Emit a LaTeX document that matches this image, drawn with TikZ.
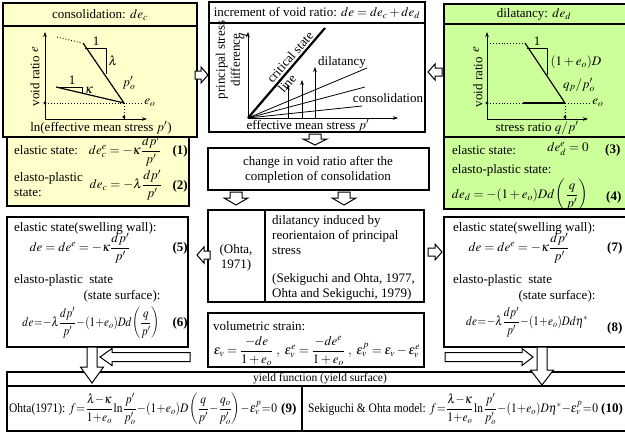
\documentclass[tikz,border=0pt]{standalone}
\usepackage{mathptmx}
\usepackage{amsmath}
\usepackage{graphicx}
\usepackage{fontspec}
\setmainfont{Liberation Serif}
\usetikzlibrary{arrows.meta}
\definecolor{ylw}{RGB}{255,255,204}
\definecolor{grn}{RGB}{204,255,153}
\tikzset{
 box/.style={draw=black,line width=1.3pt},
 txt/.style={inner sep=0pt,font=\fontsize{13}{15}\selectfont},
 smalltxt/.style={inner sep=0pt,font=\fontsize{11.5}{13}\selectfont},
 ax/.style={line width=0.8pt,-{Stealth[length=5pt,width=3.5pt]}},
 dots/.style={dotted,line width=0.9pt},
 blockarrow/.style={draw=black,line width=1pt,fill=white},
 thin/.style={line width=0.8pt},
}
\newcommand\tightmath{\medmuskip=0.5mu\thickmuskip=1mu\thinmuskip=1mu}
\newcommand\blkarrow[7]{\begin{scope}[shift={(#1,#2)},rotate=#3]
 \draw[blockarrow] (0,{-#5}) -- ({#4-#7},{-#5}) -- ({#4-#7},{-#6}) -- (#4,0) -- ({#4-#7},#6) -- ({#4-#7},#5) -- (0,#5) -- cycle;
\end{scope}}
\begin{document}
\begin{tikzpicture}[x=1pt,y=-1pt]
\useasboundingbox[fill=white] (0,0) rectangle (625,432);
% ---------- boxes ----------
\filldraw[box,fill=ylw] (3,3) rectangle (197,137);
\draw[box] (3,26) -- (197,26);
\filldraw[box,fill=ylw] (7,137) rectangle (189,206);
\draw[box] (209,2) rectangle (425,132);
\draw[box] (209,23) -- (425,23);
\filldraw[box,fill=grn] (444,4) rectangle (630,137);
\draw[box] (444,24) -- (630,24);
\filldraw[box,fill=grn] (444,137) rectangle (630,209);
\draw[box] (208,148) rectangle (429,190);
\draw[box] (208,210) rectangle (424,302);
\draw[box] (265,210) -- (265,302);
\draw[box] (7,217) rectangle (188,347);
\draw[box] (444,217) rectangle (630,347);
\draw[box] (208,313) rectangle (424,367);
\draw[box] (7,372) rectangle (630,431);
\draw[box] (7,386) -- (630,386);
\draw[box] (302,386) -- (302,431);
% ---------- titles ----------
\node[txt] (t1) at (100,15) {consolidation: $de_c$};
\node[txt] (t2) at (317,13) {increment of void ratio: $de=de_c+de_d$};
\node[txt] (t3) at (534,14) {dilatancy: $de_d$};
% ---------- left graph ----------
\coordinate (lo) at (45,119);
\draw[ax] (lo) -- (45,32);
\draw[ax] (lo) -- (147,119);
\draw[dots] (57,37) -- (82,43);
\draw[line width=1.2pt] (83,43) -- (124,103);
\draw[thin] (85,48) -- (106,48) -- (106,74);
\node[txt] (l1lab) at (96,41) {1};
\node[txt] (llam) at (113,61) {$\lambda$};
\draw[line width=1.2pt] (56,87) -- (124,103);
\draw[thin] (57,87) -- (82,87) -- (82,93);
\node[txt] (l1k) at (72,80) {1};
\node[txt] (lkap) at (89,90) {$\kappa$};
\node[txt] (lpo) at (129,83) {$p'_o$};
\draw[dots] (45,103) -- (143,103);
\node[txt] (leo) at (150,103) {$e_o$};
\draw[dots] (124,103) -- (124,119);
\draw[thin] (45,103) circle (1);
\draw[thin] (124,117) circle (1);
\node[txt,rotate=90] (lvr) at (35,81) {void ratio};
\node[txt,rotate=90] (le) at (35,50) {$e$};
\node[txt] (lxl) at (101,128) {ln(effective mean stress $p'$)};
% ---------- center graph ----------
\coordinate (co) at (248,118);
\draw[ax] (co) -- (248,32);
\draw[ax] (co) -- (398,118);
\draw[line width=2.2pt] (co) -- (325,28);
\draw[thin] (co) -- (367,68);
\draw[thin] (co) -- (365,87);
\draw[thin] (co) -- (362,106);
\draw[ax] (288,118) -- (288,85);
\draw[ax] (302,118) -- (302,80);
\draw[ax] (315,118) -- (315,67);
\node[txt,rotate=49,align=left] (csl) at (295.7,61.9) {critical state\\line};
\node[txt] (cdil) at (342,62) {dilatancy};
\node[txt] (ccon) at (388,98) {consolidation};
\node[txt,rotate=90,align=center] (cyl) at (228,60) {principal stress\\difference};
\node[txt,rotate=90] (cq) at (243,36) {$q$};
\node[txt] (cxl) at (308,126) {effective mean stress $p'$};
% ---------- right graph ----------
\coordinate (ro) at (487,119);
\draw[ax] (ro) -- (487,32);
\draw[ax] (ro) -- (588,119);
\draw[dots] (487,43) -- (525,43);
\draw[line width=1.2pt] (525,43) -- (565,103);
\draw[thin] (527,48) -- (547,48) -- (547,75);
\node[txt] (r1) at (537,41) {1};
\node[txt] (rd) at (576,62) {$(1+e_o)D$};
\node[txt] (rq) at (579,85) {$q_p/p'_o$};
\draw[dots] (487,103) -- (589,103);
\draw[line width=1.5pt] (523,103) -- (565,103);
\node[txt] (reo) at (598,103) {$e_o$};
\draw[dots] (565,103) -- (565,119);
\draw[thin] (487,103) circle (1);
\draw[thin] (565,117) circle (1);
\node[txt,rotate=90] (rvr) at (478,82) {void ratio};
\node[txt,rotate=90] (re) at (476,50) {$e$};
\node[txt] (rxl) at (537,128) {stress ratio $q/p'$};
% ---------- left eq box ----------
\node[txt,anchor=west] (l1) at (14,150) {elastic state:};
\node[txt] (l1e) at (125,151) {$de_c^e=-\kappa\dfrac{dp'}{p'}$};
\node[txt,anchor=east] (l1n) at (188,151) {\textbf{(1)}};
\node[txt,anchor=west,align=left] (l2) at (14,185) {elasto-plastic\\state:};
\node[txt] (l2e) at (126,185) {$de_c=-\lambda\dfrac{dp'}{p'}$};
\node[txt,anchor=east] (l2n) at (188,186) {\textbf{(2)}};
% ---------- right eq box ----------
\node[txt,anchor=west] (r1t) at (452,150) {elastic state:};
\node[txt] (r1e) at (568,149) {$de_d^e=0$};
\node[txt,anchor=west] (r1n) at (605,150) {\textbf{(3)}};
\node[txt,anchor=west] (r2t) at (452,170) {elasto-plastic state:};
\node[txt] (r2e) at (520,195) {$de_d=-(1+e_o)Dd\left(\dfrac{q}{p'}\right)$};
\node[txt,anchor=west] (r2n) at (606,197) {\textbf{(4)}};
% ---------- change box ----------
\node[txt,align=center] (chg) at (318,170) {change in void ratio after the\\completion of consolidation};
% ---------- Ohta box ----------
\node[txt,align=center] (oh) at (236,258) {(Ohta,\\1971)};
\node[txt,anchor=west,align=left] (dil) at (272,235) {dilatancy induced by\\reorientaion of principal\\stress};
\node[txt,anchor=west,align=left] (sek) at (272,287) {(Sekiguchi and Ohta, 1977,\\Ohta and Sekiguchi, 1979)};
% ---------- left middle ----------
\node[txt,anchor=west] (m1) at (14,228) {elastic state(swelling wall):};
\node[txt] (m1e) at (80,248) {$de=de^e=-\kappa\dfrac{dp'}{p'}$};
\node[txt,anchor=east] (m1n) at (188,248) {\textbf{(5)}};
\node[txt,anchor=west] (m2) at (14,280) {elasto-plastic\ \ state};
\node[txt] (m2s) at (122,296) {(state surface):};
\node[txt] (m2e) at (91,323) {\resizebox{137pt}{\height}{\tightmath$de=-\lambda\dfrac{dp'}{p'}-(1+e_o)Dd\left(\dfrac{q}{p'}\right)$}};
\node[txt,anchor=east] (m2n) at (188,323) {\textbf{(6)}};
% ---------- right middle ----------
\node[txt,anchor=west] (n1) at (453,228) {elastic state(swelling wall):};
\node[txt] (n1e) at (519,248) {$de=de^e=-\kappa\dfrac{dp'}{p'}$};
\node[txt,anchor=west] (n1n) at (607,248) {\textbf{(7)}};
\node[txt,anchor=west] (n2) at (453,280) {elasto-plastic\ \ state};
\node[txt] (n2s) at (557,296) {(state surface):};
\node[txt] (n2e) at (527,322) {\resizebox{122pt}{\height}{\tightmath$de=-\lambda\dfrac{dp'}{p'}-(1+e_o)Dd\eta^*$}};
\node[txt,anchor=west] (n2n) at (607,328) {\textbf{(8)}};
% ---------- volumetric ----------
\node[txt,anchor=west] (vs) at (213,326) {volumetric strain:};
\node[txt] (vse) at (317,351) {\resizebox{206pt}{\height}{$\varepsilon_v=\dfrac{-de}{1+e_o}\ ,\ \varepsilon_v^e=\dfrac{-de^e}{1+e_o}\ ,\ \varepsilon_v^p=\varepsilon_v-\varepsilon_v^e$}};
% ---------- yield ----------
\node[smalltxt] (yt) at (320,379) {yield function (yield surface)};
\node[txt,anchor=west] (y1) at (9,409) {\resizebox{268pt}{\height}{\tightmath Ohta(1971): $f=\dfrac{\lambda-\kappa}{1+e_o}\ln\dfrac{p'}{p'_o}-(1+e_o)D\left(\dfrac{q}{p'}-\dfrac{q_o}{p'_o}\right)-\varepsilon_v^p=0$}};
\node[txt,anchor=west] (y1n) at (281,409) {\textbf{(9)}};
\node[txt,anchor=west] (y2) at (308,409) {\resizebox{290pt}{\height}{\tightmath Sekiguchi \& Ohta model: $f=\dfrac{\lambda-\kappa}{1+e_o}\ln\dfrac{p'}{p'_o}-(1+e_o)D\eta^*-\varepsilon_v^p=0$}};
\node[txt,anchor=west] (y2n) at (601,409) {\textbf{(10)}};
% ---------- block arrows ----------
\blkarrow{195}{75}{0}{13}{4}{8}{7}
\blkarrow{442}{72}{180}{14}{4}{8}{7}
\blkarrow{315}{134}{-90}{11}{6}{12}{6}
\blkarrow{236}{192}{-90}{13}{6}{12}{7}
\blkarrow{344}{192}{-90}{13}{6}{12}{7}
\blkarrow{210}{255}{180}{13}{4}{8}{7}
\blkarrow{428}{252}{0}{14}{4}{8}{7}
\blkarrow{92}{347}{-90}{36}{5}{11.5}{16}
\blkarrow{190}{357}{180}{90}{4.5}{8.5}{12}
\blkarrow{445}{357}{0}{88}{4.5}{8.5}{11}
\blkarrow{542}{347}{-90}{38}{5}{11.5}{15}
\end{tikzpicture}
\end{document}
